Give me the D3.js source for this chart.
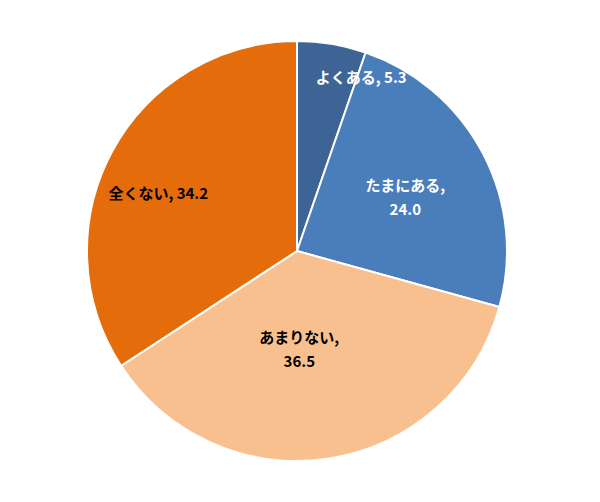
<!DOCTYPE html>
<html>
<head>
<meta charset="utf-8">
<script src="https://cdn.jsdelivr.net/npm/d3@7/dist/d3.min.js"></script>
<style>
  html, body { margin: 0; padding: 0; background: #ffffff; }
  svg { display: block; }
</style>
</head>
<body>
<svg id="chart" width="600" height="502"></svg>
<script>
const categories = ["よくある", "たまにある", "あまりない", "全くない"];
const values = [5.3, 24.0, 36.5, 34.2];
const valueLabels = ["5.3", "24.0", "36.5", "34.2"];

const colors = ["#3E6496", "#4A7EBB", "#F9C08F", "#E46C0A"];
const textColors = ["#ffffff", "#ffffff", "#000000", "#000000"];
// label layout: whether category and value share one line
const singleLine = [true, false, false, true];
// label placement tweaks (angle offset in degrees, radius fraction)
const labelPlace = [
  { dAngle: 10.8, r: 0.88 },
  { dAngle: 1.5, r: 0.575 },
  { dAngle: 7.5, r: 0.47 },
  { dAngle: -6.0, r: 0.715 }
];

const W = 600, H = 502;
const cx = 297, cy = 251, R = 210;

const svg = d3.select("#chart");
const g = svg.append("g").attr("transform", `translate(${cx},${cy})`);

const pie = d3.pie().sort(null).value(d => d)(values);
const arc = d3.arc().innerRadius(0).outerRadius(R);

g.selectAll("path.slice")
  .data(pie)
  .join("path")
  .attr("class", "slice")
  .attr("d", arc)
  .attr("fill", (d, i) => colors[i])
  .attr("stroke", "#ffffff")
  .attr("stroke-width", 2)
  .attr("stroke-linejoin", "round");

const fontFamily = "'Noto Sans CJK JP', 'Noto Sans', sans-serif";

pie.forEach((d, i) => {
  const mid = (d.startAngle + d.endAngle) / 2 + labelPlace[i].dAngle * Math.PI / 180;
  const r = R * labelPlace[i].r;
  const x = Math.sin(mid) * r;
  const y = -Math.cos(mid) * r;
  const t = g.append("text")
    .attr("x", x)
    .attr("y", y)
    .attr("text-anchor", "middle")
    .attr("font-family", fontFamily)
    .attr("font-weight", "bold")
    .attr("font-size", 15)
    .attr("fill", textColors[i]);
  if (singleLine[i]) {
    t.append("tspan").attr("x", x).attr("dy", "0.35em")
      .text(categories[i] + ", " + valueLabels[i]);
  } else {
    t.append("tspan").attr("x", x).attr("dy", "-0.45em")
      .text(categories[i] + ",");
    t.append("tspan").attr("x", x).attr("dy", "1.6em")
      .text(valueLabels[i]);
  }
});
</script>
</body>
</html>
